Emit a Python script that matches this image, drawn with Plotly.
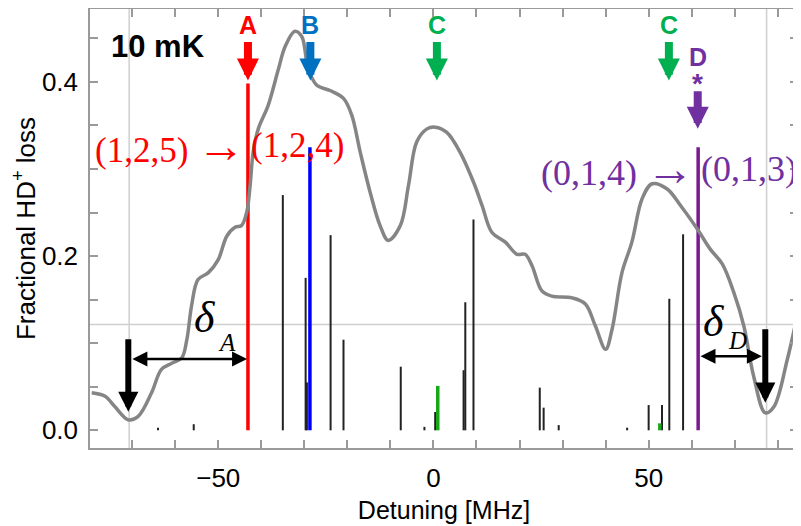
import plotly.graph_objects as go

# ---------------- data ----------------
curve_x = [-79.4, -76.3, -74.0, -70.9, -68.6, -65.5, -63.2, -60.8, -58.5, -57.3, -56.2, -54.7,
           -52.3, -50.0, -48.0, -46.1, -44.6, -43.4, -42.6, -41.9, -40.7, -38.4, -36.0, -34.5,
           -32.2, -30.6, -29.1, -27.1, -24.0, -20.9, -19.0, -17.0, -14.7, -12.4, -10.5, -7.7,
           -5.8, -3.9, -1.5, 0.4, 3.1, 6.2, 9.3, 11.3, 13.6, 16.7, 19.4, 21.3, 22.9, 25.2,
           27.5, 32.2, 35.3, 37.6, 40.0, 41.5, 43.8, 46.1, 48.5, 50.8, 54.3, 57.4, 61.3, 64.3,
           67.1, 69.8, 72.1, 74.4, 77.1, 79.1, 82.2, 84.5]
curve_y = [0.043, 0.039, 0.027, 0.012, 0.016, 0.043, 0.070, 0.077, 0.083, 0.104, 0.143, 0.173,
           0.181, 0.196, 0.223, 0.233, 0.235, 0.250, 0.281, 0.319, 0.346, 0.373, 0.415, 0.440,
           0.458, 0.452, 0.415, 0.396, 0.390, 0.381, 0.362, 0.319, 0.273, 0.235, 0.218, 0.235,
           0.281, 0.331, 0.346, 0.348, 0.342, 0.319, 0.285, 0.258, 0.227, 0.216, 0.202, 0.202,
           0.189, 0.160, 0.154, 0.152, 0.145, 0.120, 0.093, 0.116, 0.181, 0.216, 0.266, 0.283,
           0.277, 0.258, 0.231, 0.208, 0.191, 0.158, 0.120, 0.062, 0.020, 0.027, 0.081, 0.131]

black_x = [-64.0, -55.7, -35.0, -29.7, -29.4, -23.9, -20.9, -7.6, -2.1, 0.4, 7.0, 7.4, 9.3,
           24.7, 25.6, 29.1, 45.0, 50.0, 53.1, 54.8, 58.0]
black_h = [0.003, 0.007, 0.270, 0.175, 0.055, 0.224, 0.104, 0.073, 0.004, 0.021, 0.069, 0.147,
           0.242, 0.049, 0.026, 0.006, 0.003, 0.029, 0.029, 0.151, 0.225]
red_x, red_h = [-43.1], [0.398]
blue_x, blue_h = [-28.7], [0.325]
green_x, green_h = [1.0, 52.6], [0.051, 0.008]
purple_x, purple_h = [61.5], [0.325]

ref_vlines = [-70.7, 77.4]
ref_hline = 0.1215

# peak labels: (letter, x, colour)
peak_labels = [("A", -43.1, "#ff0000"), ("B", -28.6, "#0070c0"),
               ("C", 0.8, "#00b050"), ("C", 54.7, "#00b050")]
d_x = 61.4

x_range = [-79.8, 84.7]
y_range = [-0.0203, 0.4836]


def sticks(xs, hs):
    X, Y = [], []
    for x, h in zip(xs, hs):
        X += [x, x, None]
        Y += [0, h, None]
    return X, Y


fig = go.Figure()

# reference lines
for xv in ref_vlines:
    fig.add_shape(type="line", x0=xv, x1=xv, y0=0, y1=1, xref="x", yref="paper",
                  line=dict(color="#cfcfcf", width=1.5), layer="below")
fig.add_shape(type="line", x0=0, x1=1, y0=ref_hline, y1=ref_hline, xref="paper", yref="y",
              line=dict(color="#cfcfcf", width=1.5), layer="below")

# spectrum sticks
for xs, hs, col, w in [(black_x, black_h, "#222222", 2),
                       (red_x, red_h, "#ff0000", 3.5),
                       (blue_x, blue_h, "#0000ff", 3.5),
                       (green_x, green_h, "#16a816", 3.5),
                       (purple_x, purple_h, "#7a1a90", 3.5)]:
    X, Y = sticks(xs, hs)
    fig.add_trace(go.Scatter(x=X, y=Y, mode="lines", line=dict(color=col, width=w),
                             showlegend=False, hoverinfo="skip"))

# measured curve
fig.add_trace(go.Scatter(x=curve_x, y=curve_y, mode="lines",
                         line=dict(color="#858585", width=3.5, shape="spline", smoothing=1.0),
                         showlegend=False))

ann = []
SANS = "Arial, Liberation Sans, sans-serif"

# coloured arrows + letters
for let, xv, col in peak_labels:
    ann.append(dict(x=xv, y=0.4015, xref="x", yref="y", text="", showarrow=True,
                    ax=0, ay=-40, arrowhead=2, arrowsize=0.55, arrowwidth=8, arrowcolor=col))
    ann.append(dict(x=xv, y=0.4649, xref="x", yref="y", text="<b>%s</b>" % let, showarrow=False,
                    font=dict(family=SANS, size=25, color=col)))
# D*
ann.append(dict(x=d_x, y=0.3462, xref="x", yref="y", text="", showarrow=True,
                ax=0, ay=-39, arrowhead=2, arrowsize=0.55, arrowwidth=8, arrowcolor="#7030a0"))
ann.append(dict(x=d_x, y=0.4290, xref="x", yref="y", text="<b>D</b>", showarrow=False,
                font=dict(family=SANS, size=25, color="#7030a0")))
ann.append(dict(x=d_x, y=0.3985, xref="x", yref="y", text="<b>*</b>", showarrow=False,
                font=dict(family=SANS, size=28, color="#7030a0")))

# black vertical arrows
ann.append(dict(x=-70.9, y=0.0213, xref="x", yref="y", text="", showarrow=True,
                ax=0, ay=-74, arrowhead=2, arrowsize=0.67, arrowwidth=6, arrowcolor="black"))
ann.append(dict(x=77.1, y=0.0317, xref="x", yref="y", text="", showarrow=True,
                ax=0, ay=-75, arrowhead=2, arrowsize=0.67, arrowwidth=6, arrowcolor="black"))
# double arrows
ann.append(dict(x=-43.3, y=0.082, ax=-70.3, ay=0.082, xref="x", yref="y", axref="x", ayref="y",
                text="", showarrow=True, arrowside="end+start", arrowhead=2, startarrowhead=2,
                arrowsize=1.2, startarrowsize=1.2, arrowwidth=2.5, arrowcolor="black"))
ann.append(dict(x=76.3, y=0.085, ax=61.7, ay=0.085, xref="x", yref="y", axref="x", ayref="y",
                text="", showarrow=True, arrowside="end+start", arrowhead=2, startarrowhead=2,
                arrowsize=1.2, startarrowsize=1.2, arrowwidth=2.5, arrowcolor="black"))

SERIF = "Times New Roman, Liberation Serif, serif"
# deltas
ann.append(dict(x=-53.1, y=0.1296, xref="x", yref="y", text="<i>δ</i>", showarrow=False,
                font=dict(family=SERIF, size=44, color="black")))
ann.append(dict(x=-48.0, y=0.1012, xref="x", yref="y", text="<i>A</i>", showarrow=False,
                font=dict(family=SERIF, size=25, color="black")))
ann.append(dict(x=65.1, y=0.1253, xref="x", yref="y", text="<i>δ</i>", showarrow=False,
                font=dict(family=SERIF, size=44, color="black")))
ann.append(dict(x=70.6, y=0.1035, xref="x", yref="y", text="<i>D</i>", showarrow=False,
                font=dict(family=SERIF, size=25, color="black")))

# transition labels
ARROW = "<span style='font-size:48px'>→</span>"
ann.append(dict(x=red_x[0], y=0.3266, xref="x", yref="y", text="(1,2,5) " + ARROW,
                showarrow=False, xanchor="right", xshift=-1,
                font=dict(family=SERIF, size=35, color="#ff0000")))
ann.append(dict(x=red_x[0], y=0.3266, xref="x", yref="y", text="(1,2,4)", showarrow=False,
                xanchor="left", xshift=1, font=dict(family=SERIF, size=35, color="#ff0000")))
ann.append(dict(x=purple_x[0], y=0.300, xref="x", yref="y", text="(0,1,4) " + ARROW,
                showarrow=False, xanchor="right", xshift=-2,
                font=dict(family=SERIF, size=36, color="#7030a0")))
ann.append(dict(x=purple_x[0], y=0.300, xref="x", yref="y", text="(0,1,3)", showarrow=False,
                xanchor="left", xshift=1, font=dict(family=SERIF, size=36, color="#7030a0")))

# temperature
ann.append(dict(x=-64.1, y=0.4406, xref="x", yref="y", text="<b>10 mK</b>", showarrow=False,
                font=dict(family=SANS, size=31, color="black")))

AXC = "#9a9a9a"
# the page body adds an 8 px offset, so the figure is sized to fit the remaining window
fig.update_layout(
    width=793, height=518,
    margin=dict(l=82, r=3, t=1, b=78),
    paper_bgcolor="white", plot_bgcolor="white",
    font=dict(family=SANS, size=26, color="black"),
    annotations=ann,
    showlegend=False,
)
fig.update_xaxes(range=x_range, tick0=0, dtick=50, ticks="inside", ticklen=8, tickwidth=1.5,
                 tickcolor=AXC, showline=True, linecolor=AXC, linewidth=1.5, mirror="ticks",
                 showgrid=False, zeroline=False, ticklabelstandoff=6, automargin=False,
                 minor=dict(dtick=10, ticks="inside", ticklen=8, tickwidth=1.5, tickcolor=AXC,
                            showgrid=False),
                 title=dict(text="Detuning [MHz]", font=dict(size=25), standoff=10))
fig.update_yaxes(range=y_range, tick0=0, dtick=0.2, tickformat=".1f", ticks="inside", ticklen=8,
                 tickwidth=1.5, tickcolor=AXC, showline=True, linecolor=AXC, linewidth=1.5,
                 mirror="ticks", showgrid=False, zeroline=False, ticklabelstandoff=5,
                 automargin=False,
                 minor=dict(dtick=0.05, ticks="inside", ticklen=8, tickwidth=1.5, tickcolor=AXC,
                            showgrid=False),
                 title=dict(text="Fractional HD<sup>+</sup> loss", font=dict(size=26), standoff=11))

fig.write_html("out.html")
